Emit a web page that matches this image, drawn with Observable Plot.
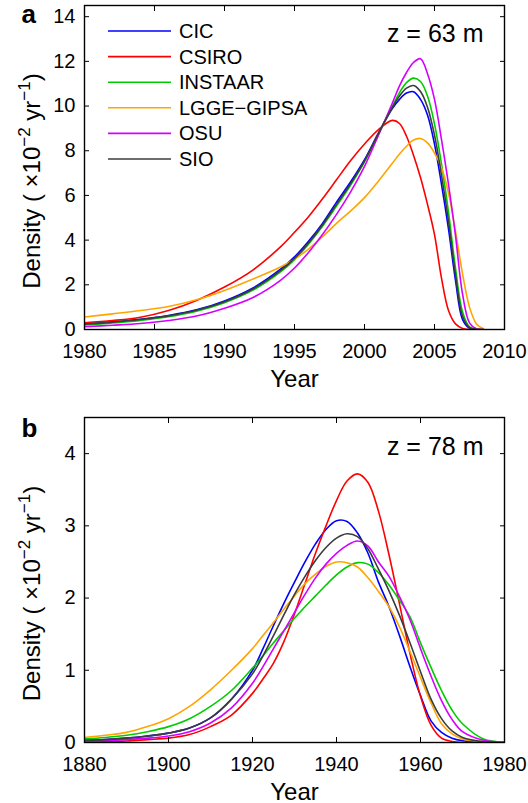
<!DOCTYPE html>
<html><head><meta charset="utf-8">
<script src="https://cdn.jsdelivr.net/npm/d3@7"></script>
<script src="https://cdn.jsdelivr.net/npm/@observablehq/plot@0.6"></script>
<style>
body{margin:0;background:#fff;font-family:"Liberation Sans",Arial,sans-serif;}
#chart{width:528px;}
#chart svg{display:block;}
</style></head><body><div id="chart"></div>
<script>
const models = ["CIC", "CSIRO", "INSTAAR", "LGGE\u2212GIPSA", "OSU", "SIO"];
const colors = ["#0000ff", "#ff0000", "#00cc00", "#ffa500", "#d400ff", "#3c3c3c"];

// Panel a (z = 63 m)
const yearsA = [1980,1982,1984,1986,1988,1990,1992,1994,1995,1996,1997,1998,1999,2000,2001,2002,2002.5,2003,2003.5,2004,2004.5,2005,2005.5,2006,2006.5,2007,2007.5,2008,2008.5];
const cicA     = [0.25,0.34,0.46,0.63,0.88,1.28,1.85,2.7,3.25,3.95,4.75,5.7,6.6,7.6,8.8,9.9,10.3,10.58,10.64,10.3,9.6,8.3,6.5,4.5,2.2,0.45,0.05,0,0];
const csiroA   = [0.3,0.4,0.55,0.85,1.3,1.9,2.65,3.7,4.35,5.05,5.85,6.7,7.55,8.3,8.95,9.36,9.22,8.65,7.8,6.8,5.6,4.25,2.3,0.85,0.25,0.05,0,0,0];
const instaarA = [0.2,0.29,0.41,0.57,0.82,1.2,1.75,2.58,3.13,3.82,4.62,5.52,6.45,7.5,8.75,10.0,10.6,11.05,11.25,11.1,10.45,9.2,7.4,5.25,2.75,0.8,0.12,0.01,0];
const lggeA    = [0.56,0.7,0.85,1.03,1.33,1.75,2.25,2.8,3.15,3.6,4.15,4.75,5.3,5.9,6.65,7.45,7.85,8.2,8.48,8.55,8.35,7.9,7.25,6.1,4.4,2.5,1.0,0.25,0.03];
const osuA     = [0.12,0.19,0.27,0.4,0.6,0.95,1.42,2.2,2.75,3.45,4.25,5.15,6.15,7.3,8.7,10.15,10.9,11.5,11.95,12.12,11.45,10.3,8.5,6.5,4.2,1.6,0.3,0.03,0];
const sioA     = [0.24,0.33,0.45,0.61,0.86,1.24,1.8,2.63,3.18,3.87,4.68,5.6,6.52,7.55,8.78,9.95,10.45,10.8,10.92,10.65,9.95,8.7,6.9,4.85,2.45,0.6,0.08,0.01,0];
const xTicksA = [1980,1985,1990,1995,2000,2005,2010];
const yTicksA = [0,2,4,6,8,10,12,14];

// Panel b (z = 78 m)
const yearsB = [1880,1885,1890,1895,1900,1905,1910,1915,1920,1922.5,1925,1927.5,1930,1932.5,1935,1937.5,1940,1942.5,1945,1947.5,1950,1952.5,1955,1957.5,1960,1962.5,1965,1967.5,1970,1975,1980];
const cicB     = [0.03,0.04,0.06,0.09,0.13,0.2,0.34,0.6,1.0,1.3,1.62,1.93,2.22,2.5,2.75,2.95,3.07,3.06,2.9,2.62,2.22,1.88,1.48,1.05,0.65,0.3,0.14,0.06,0.025,0.005,0];
const csiroB   = [0.01,0.015,0.02,0.04,0.06,0.11,0.22,0.38,0.68,0.88,1.1,1.4,1.78,2.2,2.62,3.0,3.35,3.62,3.72,3.6,3.2,2.6,1.92,1.23,0.64,0.24,0.06,0.015,0,0,0];
const instaarB = [0.05,0.07,0.1,0.15,0.22,0.33,0.5,0.72,1.03,1.2,1.38,1.55,1.72,1.88,2.03,2.18,2.32,2.43,2.49,2.47,2.35,2.18,1.97,1.74,1.38,1.04,0.72,0.45,0.26,0.05,0.005];
const lggeB    = [0.07,0.1,0.14,0.22,0.33,0.5,0.73,1.0,1.3,1.48,1.66,1.85,2.03,2.2,2.33,2.44,2.5,2.49,2.43,2.28,2.09,1.88,1.6,1.26,0.9,0.55,0.26,0.12,0.05,0.01,0];
const osuB     = [0.02,0.03,0.04,0.06,0.09,0.15,0.27,0.48,0.82,1.05,1.3,1.55,1.8,2.05,2.28,2.47,2.62,2.73,2.79,2.72,2.5,2.3,2.02,1.7,1.3,0.92,0.58,0.32,0.15,0.03,0];
const sioB     = [0.03,0.04,0.06,0.09,0.13,0.2,0.34,0.6,0.95,1.2,1.48,1.77,2.05,2.3,2.52,2.7,2.83,2.89,2.85,2.68,2.4,2.1,1.76,1.38,0.98,0.6,0.33,0.16,0.07,0.01,0];
const xTicksB = [1880,1900,1920,1940,1960,1980];
const yTicksB = [0,1,2,3,4];

const FONT = '"Liberation Sans", Arial, Helvetica, sans-serif';

function panel({years, series, xDomain, yDomain, xTicks, yTicks, height, marginTop, marginBottom, zText, letter, letterDy, zDy, legend}) {
  const rows = [];
  series.forEach((vals, i) => vals.forEach((v, j) => rows.push({model: models[i], year: years[j], value: v})));
  const svg = Plot.plot({
    width: 528, height, marginLeft: 84, marginRight: 24, marginTop, marginBottom,
    style: {fontFamily: FONT, fontSize: "20px", color: "#000", background: "#fff", overflow: "visible"},
    x: {domain: xDomain, label: null},
    y: {domain: yDomain, label: null},
    color: {domain: models, range: colors},
    marks: [
      Plot.line(rows, {x: "year", y: "value", z: "model", stroke: "model", strokeWidth: 1.6, curve: "catmull-rom", clip: true}),
      Plot.axisX(xTicks, {anchor: "bottom", tickSize: -5, tickPadding: 19, label: null, fontSize: 20, tickFormat: d => String(d)}),
      Plot.axisX(xTicks, {anchor: "top", tickSize: -5, label: null, tickFormat: () => ""}),
      Plot.axisY(yTicks, {anchor: "left", tickSize: -5, tickPadding: 14, label: null, fontSize: 20, tickFormat: d => String(d)}),
      Plot.axisY(yTicks, {anchor: "right", tickSize: -5, label: null, tickFormat: () => ""}),
      Plot.frame({stroke: "#000", strokeWidth: 1.4}),
      Plot.text(["Year"], {frameAnchor: "bottom", dy: 57, lineAnchor: "bottom", fontSize: 24, fill: "#000"}),
      Plot.text([zText], {frameAnchor: "top-right", dx: -21, dy: zDy, textAnchor: "end", lineAnchor: "bottom", fontSize: 25, fill: "#000"}),
      Plot.text([letter], {frameAnchor: "top-left", dx: -63, dy: letterDy, textAnchor: "start", lineAnchor: "bottom", fontSize: 26, fontWeight: "bold", fill: "#000"})
    ]
  });
  const s = d3.select(svg);
  const cy = marginTop + (height - marginTop - marginBottom) / 2 + 14;
  const t = s.append("text")
    .attr("transform", `translate(40,${cy}) rotate(-90)`)
    .attr("text-anchor", "middle")
    .attr("font-family", FONT)
    .attr("font-size", 24)
    .attr("fill", "#000");
  t.append("tspan").text("Density ( \u00d710");
  t.append("tspan").attr("font-size", 17).attr("dy", -10).text("\u22122");
  t.append("tspan").attr("dy", 10).text(" yr");
  t.append("tspan").attr("font-size", 17).attr("dy", -10).text("\u22121");
  t.append("tspan").attr("dy", 10).text(")");
  if (legend) {
    const g = s.append("g").attr("transform", "translate(108,31)");
    models.forEach((m, i) => {
      const r = g.append("g").attr("transform", `translate(0,${i * 25.6})`);
      r.append("line").attr("x1", 0).attr("x2", 63).attr("y1", 0).attr("y2", 0)
        .attr("stroke", colors[i]).attr("stroke-width", 1.6);
      r.append("text").attr("x", 71).attr("y", 7).attr("text-anchor", "start").attr("font-family", FONT)
        .attr("font-size", 20).attr("fill", "#000").text(m);
    });
  }
  return svg;
}

const root = document.getElementById("chart");
root.appendChild(panel({
  years: yearsA, series: [cicA, csiroA, instaarA, lggeA, osuA, sioA],
  xDomain: [1980, 2010], yDomain: [0, 14.5], xTicks: xTicksA, yTicks: yTicksA,
  height: 400, marginTop: 5, marginBottom: 71, zText: "z = 63 m", letter: "a", letterDy: 17, zDy: 36, legend: true
}));
root.appendChild(panel({
  years: yearsB, series: [cicB, csiroB, instaarB, lggeB, osuB, sioB],
  xDomain: [1880, 1980], yDomain: [0, 4.5], xTicks: xTicksB, yTicks: yTicksB,
  height: 403, marginTop: 17, marginBottom: 61, zText: "z = 78 m", letter: "b", letterDy: 19, zDy: 37, legend: false
}));
</script></body></html>
